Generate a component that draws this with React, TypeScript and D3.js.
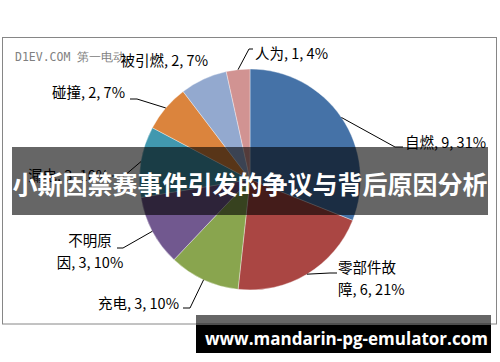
import React from "react";
import * as d3 from "d3";

// ---- data ----
const categories = ["自燃", "零部件故障", "充电", "不明原因", "漏电", "碰撞", "被引燃", "人为"];
const values = [9, 6, 3, 3, 3, 2, 2, 1];
const percents = ["31%", "21%", "10%", "10%", "10%", "7%", "7%", "4%"];
const colors = ["#4572A7", "#AA4643", "#89A54E", "#71588F", "#4198AF", "#DB843D", "#93A9CF", "#D19392"];
const chartTitle = "小斯因禁赛事件引发的争议与背后原因分析";
const sourceText = "D1EV.COM 第一电动";
const urlText = "www.mandarin-pg-emulator.com";

// ---- label layout (text lines, position, anchor, elbow) ----
type LabelLayout = { lines: string[]; x: number; y: number; anchor: string; elbow: [number, number][] | null };
const labelLayout: LabelLayout[] = [
  { lines: ["自燃, 9, 31%"], x: 405, y: 148, anchor: "start", elbow: [[395, 147], [403, 147]] },
  { lines: ["零部件故", "障, 6, 21%"], x: 338, y: 273, anchor: "start", elbow: [[330, 273], [337, 273]] },
  { lines: ["充电, 3, 10%"], x: 179, y: 309, anchor: "end", elbow: [[190, 308], [183, 308]] },
  { lines: ["不明原", "因, 3, 10%"], x: 90, y: 246, anchor: "middle", elbow: [[123, 248], [117, 248]] },
  { lines: ["漏电, 3, 10%"], x: 28, y: 181, anchor: "start", elbow: [[124, 176], [112, 176]] },
  { lines: ["碰撞, 2, 7%"], x: 125, y: 98, anchor: "end", elbow: [[137, 99], [130, 99]] },
  { lines: ["被引燃, 2, 7%"], x: 208, y: 66, anchor: "end", elbow: null },
  { lines: ["人为, 1, 4%"], x: 255, y: 58.5, anchor: "start", elbow: [[249, 49], [253, 49]] },
];

const W = 500;
const H = 362;
const cx = 250;
const cy = 179.5;
const R = 110.5;
const labelFont = "'Noto Sans CJK SC', 'Noto Sans', sans-serif";

export default function App() {
  const pie = d3.pie<number>().sort(null).startAngle(0).endAngle(2 * Math.PI);
  const arcs = pie(values);
  const arc = d3.arc<d3.PieArcDatum<number>>().innerRadius(0).outerRadius(R);

  return (
    <svg width={W} height={H} style={{ position: "absolute", left: 0, top: 0, background: "#fff" }}>
      <rect x={0} y={0} width={W} height={H} fill="#fff" />
      {/* chart frame */}
      <rect x={2.5} y={37.5} width={494} height={286.5} fill="#fff" stroke="#868686" strokeWidth={1} />
      <text x={15} y={61} fontFamily="'DejaVu Sans Mono', monospace" fontSize={11.5} fill="#808080">
        {sourceText}
      </text>
      <g transform={`translate(${cx},${cy})`}>
        {arcs.map((a, i) => (
          <path key={i} d={arc(a) || ""} fill={colors[i]} stroke="#fff" strokeWidth={0.6} strokeOpacity={0.6} />
        ))}
      </g>
      {arcs.map((a, i) => {
        const L = labelLayout[i];
        if (!L.elbow) return null;
        const mid = (a.startAngle + a.endAngle) / 2;
        const ex = cx + R * Math.sin(mid);
        const ey = cy - R * Math.cos(mid);
        const pts: [number, number][] = [[ex, ey], ...L.elbow];
        return <path key={"l" + i} d={d3.line()(pts) || ""} fill="none" stroke="#000" strokeWidth={1} />;
      })}
      {labelLayout.map((L, i) => (
        <text key={"t" + i} x={L.x} y={L.y} textAnchor={L.anchor} fontFamily={labelFont} fontSize={14.5} fill="#000">
          {L.lines.map((ln, j) => (
            <tspan key={j} x={L.x} dy={j === 0 ? 0 : 22}>
              {ln}
            </tspan>
          ))}
        </text>
      ))}
      {/* title banner */}
      <rect x={12} y={147} width={476} height={68} fill="#000" fillOpacity={0.6} />
      <text x={250} y={194} textAnchor="middle" fontFamily={labelFont} fontWeight={700} fontSize={25} fill="#fff">
        {chartTitle}
      </text>
      {/* url box */}
      <rect x={196} y={315} width={295} height={11} fill="#000" fillOpacity={0.6} />
      <rect x={196} y={325} width={295} height={28} fill="#000" />
      <text x={205} y={345} fontFamily="'Open Sans', sans-serif" fontWeight={700} fontSize={17} fill="#fff">
        {urlText}
      </text>
    </svg>
  );
}
